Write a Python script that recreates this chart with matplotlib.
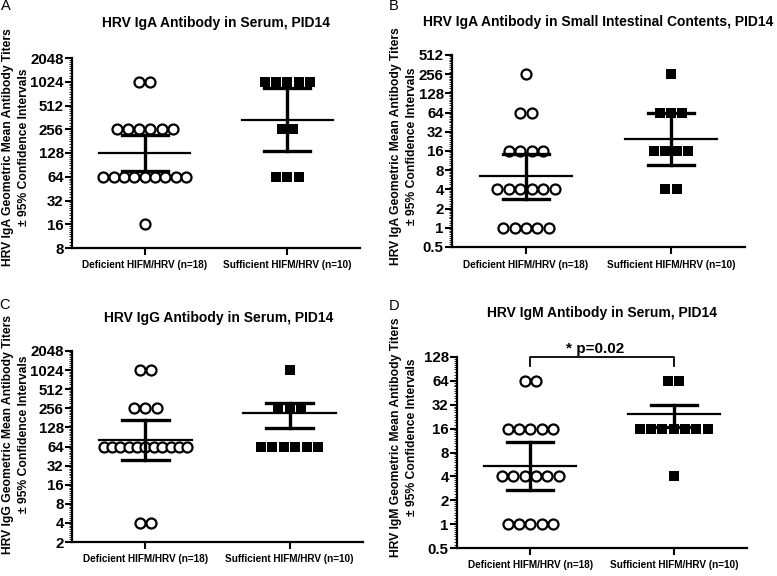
import numpy as np
import matplotlib
matplotlib.use('Agg')
import matplotlib.pyplot as plt
from matplotlib.ticker import FixedLocator, FuncFormatter, LogLocator, NullFormatter

# Titers per animal
a_deficient = [1024, 1024, 256, 256, 256, 256, 256, 256,
               64, 64, 64, 64, 64, 64, 64, 64, 64, 16]
a_sufficient = [1024, 1024, 1024, 1024, 1024, 256, 256, 64, 64, 64]
b_deficient = [256, 64, 64, 16, 16, 16, 16, 4, 4, 4, 4, 4, 4,
               1, 1, 1, 1, 1]
b_sufficient = [256, 64, 64, 64, 16, 16, 16, 16, 4, 4]
c_deficient = [1024, 1024, 256, 256, 256, 64, 64, 64, 64, 64, 64,
               64, 64, 64, 64, 64, 4, 4]
c_sufficient = [1024, 256, 256, 256, 64, 64, 64, 64, 64, 64]
d_deficient = [64, 64, 16, 16, 16, 16, 16, 4, 4, 4, 4, 4, 4,
               1, 1, 1, 1, 1]
d_sufficient = [64, 64, 16, 16, 16, 16, 16, 16, 16, 4]

# geometric mean, lower CI, upper CI  -> [deficient, sufficient]
a_gm = [128, 336]
a_lo = [75, 137]
a_hi = [218, 843]
b_gm = [6.4, 24.5]
b_lo = [2.8, 9.7]
b_hi = [14.5, 63]
c_gm = [82, 216]
c_lo = [39.4, 125]
c_hi = [167, 314]
d_gm = [5.45, 24.6]
d_lo = [2.72, 17]
d_hi = [10.9, 31.4]

groups = ['Deficient HIFM/HRV (n=18)', 'Sufficient HIFM/HRV (n=10)']
a_ticks = [8, 16, 32, 64, 128, 256, 512, 1024, 2048]
b_ticks = [0.5, 1, 2, 4, 8, 16, 32, 64, 128, 256, 512]
c_ticks = [2, 4, 8, 16, 32, 64, 128, 256, 512, 1024, 2048]
d_ticks = [0.5, 1, 2, 4, 8, 16, 32, 64, 128]

W, H = 777, 576
FONT = 'Liberation Sans'
plt.rcParams['font.family'] = [FONT, 'DejaVu Sans']

fig = plt.figure(figsize=(W / 100, H / 100), dpi=100)


def box(left, top, right, bottom):
    # pixel box -> figure fraction
    return [left / W, 1 - bottom / H, (right - left) / W, (bottom - top) / H]


def spread(values, center, step=0.079, max_span=0.58):
    """ x positions so equal titers sit side by side """
    values = np.asarray(values)
    xs = np.zeros(len(values))
    for v in np.unique(values):
        idx = np.where(values == v)[0]
        n = len(idx)
        s = step if n == 1 else min(step, max_span / (n - 1))
        xs[idx] = center + (np.arange(n) - (n - 1) / 2) * s
    return xs


def draw_panel(ax, deficient, sufficient, gm, lo, hi, ticks):
    ax.scatter(spread(deficient, 0), deficient, s=52, facecolors='white',
               edgecolors='black', linewidths=1.6, zorder=3, clip_on=False)
    ax.scatter(spread(sufficient, 1), sufficient, s=44, marker='s',
               color='black', linewidths=0, zorder=3, clip_on=False)
    for i in range(2):
        ax.plot([i - 0.32, i + 0.32], [gm[i], gm[i]], color='black',
                lw=1.6, zorder=4)
        ax.plot([i, i], [lo[i], hi[i]], color='black', lw=2.4, zorder=4)
        ax.plot([i - 0.16, i + 0.16], [lo[i], lo[i]], color='black',
                lw=2.4, zorder=4)
        ax.plot([i - 0.16, i + 0.16], [hi[i], hi[i]], color='black',
                lw=2.4, zorder=4)

    ax.set_yscale('log', base=2)
    ax.set_ylim(ticks[0], ticks[-1])
    ax.set_xlim(-0.51, 1.51)
    ax.yaxis.set_major_locator(FixedLocator(ticks))
    ax.yaxis.set_major_formatter(FuncFormatter(lambda v, p: '%g' % v))
    ax.yaxis.set_minor_locator(LogLocator(base=2, subs=np.arange(1.1, 2, 0.1),
                                          numticks=300))
    ax.yaxis.set_minor_formatter(NullFormatter())
    ax.set_xticks([0, 1])
    ax.set_xticklabels(groups, fontsize=7.2, fontweight='bold')
    for lab in ax.get_yticklabels():
        lab.set_fontweight('bold')
        lab.set_fontsize(10.8)
    ax.tick_params(axis='y', which='major', length=5, width=1.5, pad=1)
    ax.tick_params(axis='y', which='minor', length=2.5, width=0.6)
    ax.tick_params(axis='x', length=5, width=1.5, pad=4)
    for s in ['top', 'right']:
        ax.spines[s].set_visible(False)
    for s in ['left', 'bottom']:
        ax.spines[s].set_linewidth(1.6)


ax_a = fig.add_axes(box(72, 58, 360, 248))
ax_b = fig.add_axes(box(452, 55, 745, 247))
ax_c = fig.add_axes(box(72, 351, 363, 542))
ax_d = fig.add_axes(box(457, 357, 747, 548))

draw_panel(ax_a, a_deficient, a_sufficient, a_gm, a_lo, a_hi, a_ticks)
draw_panel(ax_b, b_deficient, b_sufficient, b_gm, b_lo, b_hi, b_ticks)
draw_panel(ax_c, c_deficient, c_sufficient, c_gm, c_lo, c_hi, c_ticks)
draw_panel(ax_d, d_deficient, d_sufficient, d_gm, d_lo, d_hi, d_ticks)

# significance bracket on panel D
ax_d.plot([0, 0, 1, 1], [100, 128, 128, 100], color='black', lw=1.3,
          clip_on=False)
fig.text(595 / W, 1 - 349 / H, '* p=0.02', ha='center', va='center',
         fontsize=11, fontweight='bold')


def ftext(x, y, s, **kw):
    fig.text(x / W, 1 - y / H, s, ha='center', va='center', **kw)


# titles
ftext(216, 23, 'HRV IgA Antibody in Serum, PID14', fontsize=10, fontweight='bold')
ftext(598, 22, 'HRV IgA Antibody in Small Intestinal Contents, PID14',
      fontsize=10, fontweight='bold')
ftext(219, 318, 'HRV IgG Antibody in Serum, PID14', fontsize=10, fontweight='bold')
ftext(602, 313, 'HRV IgM Antibody in Serum, PID14', fontsize=10, fontweight='bold')

# panel letters
ftext(6, 6, 'A', fontsize=10.5)
ftext(394, 6, 'B', fontsize=10.5)
ftext(5, 305, 'C', fontsize=10.5)
ftext(394, 306, 'D', fontsize=10.5)

# y axis titles
ylab = '{} Geometric Mean Antibody Titers\n\u00b1 95% Confidence Intervals'
for x, y, name in [(16, 147, 'HRV IgA'), (404, 146, 'HRV IgA'),
                   (16, 434, 'HRV IgG'), (404, 437, 'HRV IgM')]:
    ftext(x, y, ylab.format(name), rotation=90, fontsize=8.7,
          fontweight='bold', linespacing=1.45)

fig.savefig('out.png', dpi=100)
